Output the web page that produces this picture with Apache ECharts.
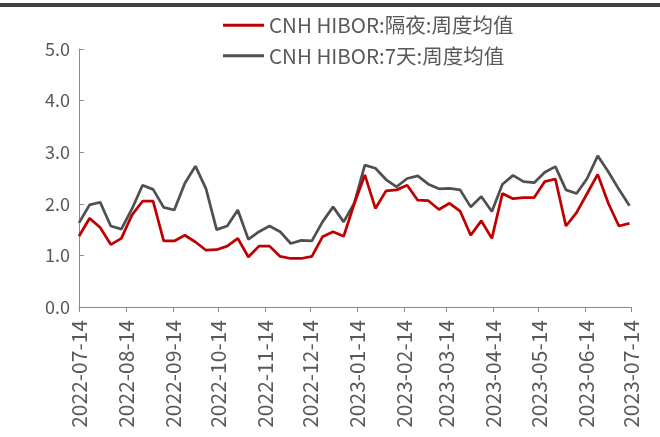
<!DOCTYPE html>
<html>
<head>
<meta charset="utf-8">
<script src="https://cdn.jsdelivr.net/npm/echarts@6/dist/echarts.min.js"></script>
<style>
  html, body { margin: 0; padding: 0; background: #fff; }
  #chart { width: 660px; height: 437px; }
</style>
</head>
<body>
<div id="chart"></div>
<script>
// weekly observations, 2022-07-14 .. 2023-07-13
const dates = [
  '2022-07-14', '2022-07-21', '2022-07-28', '2022-08-04', '2022-08-11', '2022-08-18', '2022-08-25',
  '2022-09-01', '2022-09-08', '2022-09-15', '2022-09-22', '2022-09-29', '2022-10-06', '2022-10-13',
  '2022-10-20', '2022-10-27', '2022-11-03', '2022-11-10', '2022-11-17', '2022-11-24', '2022-12-01',
  '2022-12-08', '2022-12-15', '2022-12-22', '2022-12-29', '2023-01-05', '2023-01-12', '2023-01-19',
  '2023-01-26', '2023-02-02', '2023-02-09', '2023-02-16', '2023-02-23', '2023-03-02', '2023-03-09',
  '2023-03-16', '2023-03-23', '2023-03-30', '2023-04-06', '2023-04-13', '2023-04-20', '2023-04-27',
  '2023-05-04', '2023-05-11', '2023-05-18', '2023-05-25', '2023-06-01', '2023-06-08', '2023-06-15',
  '2023-06-22', '2023-06-29', '2023-07-06', '2023-07-13'
];
const overnight = [
  1.37, 1.72, 1.54, 1.21, 1.33, 1.78, 2.05, 2.05, 1.28, 1.28,
  1.39, 1.26, 1.10, 1.11, 1.18, 1.33, 0.97, 1.18, 1.18, 0.98,
  0.94, 0.94, 0.98, 1.36, 1.46, 1.37, 2.00, 2.56, 1.91, 2.25,
  2.27, 2.36, 2.07, 2.06, 1.89, 2.01, 1.86, 1.39, 1.67, 1.33,
  2.20, 2.10, 2.12, 2.12, 2.43, 2.48, 1.57, 1.83, 2.20, 2.57,
  2.01, 1.57, 1.62
];
const sevenDay = [
  1.63, 1.98, 2.03, 1.57, 1.51, 1.90, 2.36, 2.28, 1.93, 1.88,
  2.40, 2.73, 2.29, 1.50, 1.57, 1.88, 1.31, 1.46, 1.57, 1.46,
  1.23, 1.29, 1.28, 1.65, 1.94, 1.65, 2.01, 2.75, 2.69, 2.47,
  2.33, 2.49, 2.54, 2.38, 2.29, 2.30, 2.27, 1.94, 2.14, 1.85,
  2.38, 2.55, 2.43, 2.41, 2.61, 2.72, 2.27, 2.20, 2.49, 2.93,
  2.62, 2.28, 1.96
];
const tickDates = [
  '2022-07-14', '2022-08-14', '2022-09-14', '2022-10-14', '2022-11-14', '2022-12-14', '2023-01-14',
  '2023-02-14', '2023-03-14', '2023-04-14', '2023-05-14', '2023-06-14', '2023-07-14'
];
const seriesNames = ['CNH HIBOR:隔夜:周度均值', 'CNH HIBOR:7天:周度均值'];

const FONT = '"Noto Sans CJK SC", "Noto Sans", sans-serif';
const TEXT = '#595959';
const AXIS = '#8c8c8c';

const ts = s => +echarts.time.parse(s);
const tickTs = tickDates.map(ts);

const chart = echarts.init(document.getElementById('chart'));

chart.setOption({
  animation: false,
  grid: { left: 79, right: 29, top: 49, bottom: 130 },
  graphic: [
    { type: 'rect', shape: { x: 0, y: 3, width: 660, height: 4 }, style: { fill: '#404040' } }
  ],
  legend: {
    orient: 'vertical',
    left: 218,
    top: 10,
    icon: 'rect',
    itemWidth: 41,
    itemHeight: 3,
    itemGap: 10,
    textStyle: { fontFamily: FONT, fontSize: 20.5, color: TEXT },
    data: seriesNames
  },
  xAxis: {
    type: 'value',
    min: tickTs[0],
    max: tickTs[tickTs.length - 1],
    splitLine: { show: false },
    axisLine: { lineStyle: { color: AXIS, width: 1 } },
    axisTick: { show: true, length: 5, customValues: tickTs, lineStyle: { color: AXIS } },
    axisLabel: {
      customValues: tickTs,
      rotate: 90,
      margin: 13,
      fontFamily: FONT,
      fontSize: 21,
      color: TEXT,
      formatter: v => echarts.time.format(v, '{yyyy}-{MM}-{dd}', false)
    }
  },
  yAxis: {
    type: 'value',
    min: 0,
    max: 5,
    interval: 1,
    splitLine: { show: false },
    axisLine: { show: true, lineStyle: { color: AXIS, width: 1 } },
    axisTick: { show: true, inside: true, length: 5, lineStyle: { color: AXIS } },
    axisLabel: {
      margin: 9,
      fontFamily: FONT,
      fontSize: 18,
      color: TEXT,
      formatter: v => v.toFixed(1)
    }
  },
  series: [
    {
      name: seriesNames[0],
      type: 'line',
      symbol: 'none',
      data: dates.map((d, i) => [ts(d), overnight[i]]),
      lineStyle: { color: '#c00000', width: 2.75 },
      itemStyle: { color: '#c00000' },
      z: 3
    },
    {
      name: seriesNames[1],
      type: 'line',
      symbol: 'none',
      data: dates.map((d, i) => [ts(d), sevenDay[i]]),
      lineStyle: { color: '#505050', width: 2.75 },
      itemStyle: { color: '#505050' },
      z: 2
    }
  ]
});
</script>
</body>
</html>
